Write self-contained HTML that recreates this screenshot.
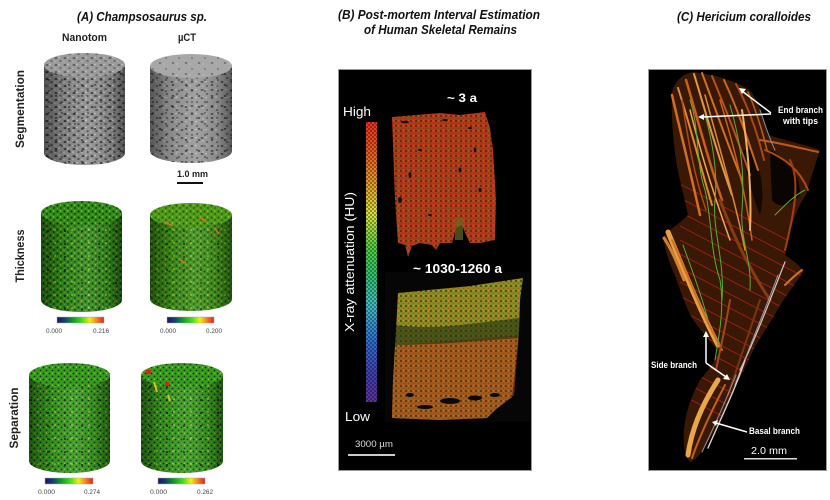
<!DOCTYPE html>
<html><head><meta charset="utf-8"><style>
html,body{margin:0;padding:0;background:#fff;}
svg{display:block;}
text{font-family:"Liberation Sans",sans-serif;}
</style></head><body>
<svg width="830" height="500" viewBox="0 0 830 500" xmlns="http://www.w3.org/2000/svg">
<defs>
<pattern id="pSeg" width="9" height="7" patternUnits="userSpaceOnUse">
<rect width="9" height="7" fill="#8e8e8e"/>
<ellipse cx="2" cy="2" rx="1.5" ry="0.9" fill="#2a2a2a"/>
<ellipse cx="6.5" cy="5" rx="1.3" ry="0.8" fill="#333"/>
<circle cx="5" cy="1.5" r="0.7" fill="#d8d8d8"/>
<circle cx="1" cy="5.5" r="0.6" fill="#c8c8c8"/>
</pattern>
<pattern id="pSeg2" width="13" height="11" patternUnits="userSpaceOnUse">
<ellipse cx="4" cy="8" rx="1.3" ry="0.7" fill="#2a2a2a"/>
<ellipse cx="10" cy="3" rx="1" ry="0.6" fill="#303030"/>
<circle cx="8" cy="9" r="0.6" fill="#e0e0e0"/>
</pattern>
<pattern id="pSegB" width="10" height="8" patternUnits="userSpaceOnUse">
<rect width="10" height="8" fill="#999"/>
<ellipse cx="2" cy="2" rx="1.5" ry="0.7" fill="#333"/>
<ellipse cx="7" cy="6" rx="1.2" ry="0.6" fill="#3a3a3a"/>
<circle cx="6" cy="1.5" r="0.6" fill="#e0e0e0"/>
</pattern>
<pattern id="pGreen" width="7" height="6" patternUnits="userSpaceOnUse">
<rect width="7" height="6" fill="#338a1a"/>
<circle cx="1.5" cy="1.5" r="1" fill="#0b2a12"/>
<circle cx="5" cy="4" r="0.9" fill="#14301a"/>
<circle cx="4.5" cy="1" r="0.9" fill="#66cc30"/>
<circle cx="1.5" cy="4.5" r="0.8" fill="#50b024"/>
</pattern>
<pattern id="pGreen2" width="17" height="13" patternUnits="userSpaceOnUse">
<circle cx="4" cy="9" r="0.9" fill="#c8d020"/>
<circle cx="12" cy="3" r="0.8" fill="#d07020"/>
<circle cx="14" cy="10" r="1" fill="#0a2010"/>
</pattern>
<pattern id="pSep" width="6" height="6" patternUnits="userSpaceOnUse">
<rect width="6" height="6" fill="#389a1e"/>
<circle cx="1.5" cy="1.5" r="0.9" fill="#0f3010"/>
<circle cx="4.5" cy="4.5" r="0.9" fill="#123412"/>
<circle cx="4.5" cy="1.2" r="0.8" fill="#70d034"/>
</pattern>
<pattern id="pBoneR" width="5" height="5" patternUnits="userSpaceOnUse">
<rect width="5" height="5" fill="#b8381a"/>
<circle cx="1" cy="1" r="0.9" fill="#1e2a0c"/>
<circle cx="3.5" cy="3" r="0.8" fill="#4a5a18"/>
<circle cx="3.6" cy="0.8" r="0.7" fill="#e04a1c"/>
<circle cx="1" cy="3.8" r="0.5" fill="#6a2a0c"/>
</pattern>
<pattern id="pBoneY" width="5" height="5" patternUnits="userSpaceOnUse">
<rect width="5" height="5" fill="#8a8a22"/>
<circle cx="1" cy="1" r="0.9" fill="#22320e"/>
<circle cx="3.5" cy="3.2" r="0.7" fill="#c04818"/>
<circle cx="3.5" cy="0.8" r="0.6" fill="#b8b030"/>
</pattern>
<pattern id="pChk" width="4" height="4" patternUnits="userSpaceOnUse">
<rect width="2" height="2" fill="#000" fill-opacity="0.35"/>
<rect x="2" y="2" width="2" height="2" fill="#000" fill-opacity="0.35"/>
</pattern>
<linearGradient id="gShade" x1="0" y1="0" x2="1" y2="0">
<stop offset="0" stop-color="#000" stop-opacity="0.45"/>
<stop offset="0.25" stop-color="#000" stop-opacity="0.1"/>
<stop offset="0.55" stop-color="#fff" stop-opacity="0.08"/>
<stop offset="0.85" stop-color="#000" stop-opacity="0.15"/>
<stop offset="1" stop-color="#000" stop-opacity="0.45"/>
</linearGradient>
<linearGradient id="gCb" x1="0" y1="0" x2="1" y2="0">
<stop offset="0" stop-color="#1a1468"/>
<stop offset="0.15" stop-color="#143c6a"/>
<stop offset="0.35" stop-color="#10a028"/>
<stop offset="0.55" stop-color="#50e020"/>
<stop offset="0.7" stop-color="#f0f010"/>
<stop offset="0.85" stop-color="#f08020"/>
<stop offset="1" stop-color="#e81c1c"/>
</linearGradient>
<linearGradient id="gCbB" x1="0" y1="0" x2="0" y2="1">
<stop offset="0" stop-color="#e83020"/>
<stop offset="0.12" stop-color="#e86020"/>
<stop offset="0.25" stop-color="#e0b030"/>
<stop offset="0.33" stop-color="#d8e040"/>
<stop offset="0.45" stop-color="#50d040"/>
<stop offset="0.55" stop-color="#30c070"/>
<stop offset="0.65" stop-color="#40c0c0"/>
<stop offset="0.78" stop-color="#3070d0"/>
<stop offset="0.9" stop-color="#4040b0"/>
<stop offset="1" stop-color="#6030a0"/>
</linearGradient>
<clipPath id="cBody">
<path d="M672,92 C675,80 685,72 695,72 L715,76 C730,80 745,85 752,93 C760,105 765,120 768,135 C785,140 805,145 820,150 C815,165 810,180 806,195 C795,210 790,230 785,255 C795,262 803,268 803,272 C795,285 782,300 773,318 C762,335 752,350 748,362 C740,378 732,392 727,405 C720,420 712,435 706,445 C700,455 695,460 690,462 C684,455 683,445 684,430 C686,410 692,395 700,380 C710,368 716,360 718,352 C710,340 700,330 692,318 C685,305 680,290 676,278 C670,265 665,250 663,238 C668,230 678,225 688,215 C684,195 678,175 676,160 C673,140 671,115 672,92 Z"/>
</clipPath>
</defs>

<rect width="830" height="500" fill="#fff"/>

<!-- Panel A -->
<text x="77" y="21" font-size="13" font-weight="bold" font-style="italic" textLength="130" lengthAdjust="spacingAndGlyphs" fill="#111">(A) Champsosaurus sp.</text>
<text x="62" y="41" font-size="11" font-weight="bold" textLength="45" lengthAdjust="spacingAndGlyphs" fill="#222">Nanotom</text>
<text x="178" y="41" font-size="11" font-weight="bold" textLength="18" lengthAdjust="spacingAndGlyphs" fill="#222">µCT</text>
<text transform="translate(24,109) rotate(-90)" text-anchor="middle" font-size="11.5" font-weight="bold" textLength="78" lengthAdjust="spacingAndGlyphs" fill="#222">Segmentation</text>
<text transform="translate(24,256) rotate(-90)" text-anchor="middle" font-size="11.5" font-weight="bold" textLength="53" lengthAdjust="spacingAndGlyphs" fill="#222">Thickness</text>
<text transform="translate(18,418) rotate(-90)" text-anchor="middle" font-size="11.5" font-weight="bold" textLength="61" lengthAdjust="spacingAndGlyphs" fill="#222">Separation</text>

<!-- Seg left -->
<g>
<path d="M44,65 L44,153 A40.5,12 0 0 0 125,153 L125,65 Z" fill="url(#pSeg)"/>
<path d="M44,65 L44,153 A40.5,12 0 0 0 125,153 L125,65 Z" fill="url(#pSeg2)"/>
<path d="M44,65 L44,153 A40.5,12 0 0 0 125,153 L125,65 Z" fill="url(#gShade)"/>
<ellipse cx="84.5" cy="65" rx="40.5" ry="12" fill="url(#pSeg)"/>
<ellipse cx="84.5" cy="65" rx="40.5" ry="12" fill="#bbb" fill-opacity="0.3"/>
</g>
<!-- Seg right -->
<g>
<path d="M150,66 L150,151 A41,12 0 0 0 232,151 L232,66 Z" fill="url(#pSegB)"/>
<path d="M150,66 L150,151 A41,12 0 0 0 232,151 L232,66 Z" fill="url(#pSeg2)"/>
<path d="M150,66 L150,151 A41,12 0 0 0 232,151 L232,66 Z" fill="url(#gShade)"/>
<ellipse cx="191" cy="66" rx="41" ry="12" fill="#a8a8a8"/>
<ellipse cx="191" cy="66" rx="41" ry="12" fill="url(#pSeg2)" opacity="0.6"/>
</g>
<text x="177" y="177" font-size="9" font-weight="bold" textLength="31" lengthAdjust="spacingAndGlyphs" fill="#222">1.0 mm</text>
<rect x="177" y="182" width="26" height="2" fill="#111"/>

<!-- Thickness left -->
<g>
<path d="M41,213 L41,300 A40.5,12 0 0 0 122,300 L122,213 Z" fill="url(#pGreen)"/>
<path d="M41,213 L41,300 A40.5,12 0 0 0 122,300 L122,213 Z" fill="url(#pGreen2)"/>
<path d="M41,213 L41,300 A40.5,12 0 0 0 122,300 L122,213 Z" fill="url(#gShade)"/>
<ellipse cx="81.5" cy="213" rx="40.5" ry="12" fill="url(#pGreen)"/>
</g>
<!-- Thickness right -->
<g>
<path d="M150,215 L150,299 A41,12 0 0 0 232,299 L232,215 Z" fill="url(#pGreen)"/>
<path d="M150,215 L150,299 A41,12 0 0 0 232,299 L232,215 Z" fill="url(#pGreen2)"/>
<path d="M150,215 L150,299 A41,12 0 0 0 232,299 L232,215 Z" fill="#90c020" fill-opacity="0.12"/>
<path d="M150,215 L150,299 A41,12 0 0 0 232,299 L232,215 Z" fill="url(#gShade)"/>
<ellipse cx="191" cy="215" rx="41" ry="12" fill="url(#pGreen)"/>
<ellipse cx="191" cy="215" rx="41" ry="12" fill="#c0d020" fill-opacity="0.2"/>
<path d="M165,222 l8,4 M200,218 l6,3 M215,228 l4,6 M180,260 l6,3" stroke="#e07020" stroke-width="1.5"/>
</g>
<rect x="57" y="317" width="47" height="6" fill="url(#gCb)" stroke="#aaa" stroke-width="0.5"/>
<rect x="167" y="317" width="47" height="6" fill="url(#gCb)" stroke="#aaa" stroke-width="0.5"/>
<text x="46" y="333" font-size="6" textLength="16" lengthAdjust="spacingAndGlyphs" fill="#444">0.000</text>
<text x="93" y="333" font-size="6" textLength="16" lengthAdjust="spacingAndGlyphs" fill="#444">0.216</text>
<text x="160" y="333" font-size="6" textLength="16" lengthAdjust="spacingAndGlyphs" fill="#444">0.000</text>
<text x="206" y="333" font-size="6" textLength="16" lengthAdjust="spacingAndGlyphs" fill="#444">0.200</text>

<!-- Separation left -->
<g>
<path d="M29,375 L29,461 A40.5,12 0 0 0 110,461 L110,375 Z" fill="url(#pSep)"/>
<path d="M29,375 L29,461 A40.5,12 0 0 0 110,461 L110,375 Z" fill="url(#pGreen2)"/>
<path d="M29,375 L29,461 A40.5,12 0 0 0 110,461 L110,375 Z" fill="url(#gShade)"/>
<ellipse cx="69.5" cy="375" rx="40.5" ry="12" fill="url(#pSep)"/>
</g>
<!-- Separation right -->
<g>
<path d="M141,375 L141,461 A41,12 0 0 0 223,461 L223,375 Z" fill="url(#pSep)"/>
<path d="M141,375 L141,461 A41,12 0 0 0 223,461 L223,375 Z" fill="url(#pGreen2)"/>
<path d="M141,375 L141,461 A41,12 0 0 0 223,461 L223,375 Z" fill="url(#gShade)"/>
<ellipse cx="182" cy="375" rx="41" ry="12" fill="url(#pSep)"/>
<rect x="146" y="370" width="5" height="4" fill="#e02010"/>
<rect x="165" y="382" width="4" height="4" fill="#e02010"/>
<path d="M154,382 l3,10 M168,395 l2,6" stroke="#d8c020" stroke-width="2"/>
</g>
<rect x="45" y="478" width="48" height="6" fill="url(#gCb)" stroke="#aaa" stroke-width="0.5"/>
<rect x="158" y="478" width="47" height="6" fill="url(#gCb)" stroke="#aaa" stroke-width="0.5"/>
<text x="38" y="494" font-size="6" textLength="17" lengthAdjust="spacingAndGlyphs" fill="#444">0.000</text>
<text x="84" y="494" font-size="6" textLength="16" lengthAdjust="spacingAndGlyphs" fill="#444">0.274</text>
<text x="150" y="494" font-size="6" textLength="17" lengthAdjust="spacingAndGlyphs" fill="#444">0.000</text>
<text x="197" y="494" font-size="6" textLength="16" lengthAdjust="spacingAndGlyphs" fill="#444">0.262</text>

<!-- Panel B -->
<text x="338" y="19" font-size="12.5" font-weight="bold" font-style="italic" textLength="202" lengthAdjust="spacingAndGlyphs" fill="#111">(B) Post-mortem Interval Estimation</text>
<text x="364" y="34" font-size="12.5" font-weight="bold" font-style="italic" textLength="153" lengthAdjust="spacingAndGlyphs" fill="#111">of Human Skeletal Remains</text>
<rect x="338.5" y="69.5" width="193" height="401" fill="#000" stroke="#9a9a9a" stroke-width="1"/>
<rect x="385" y="272" width="145" height="150" fill="#060606"/>
<!-- colorbar -->
<rect x="366" y="122" width="11" height="280" fill="url(#gCbB)"/>
<rect x="366" y="122" width="11" height="280" fill="url(#pChk)"/>
<text x="343" y="116" font-size="13" textLength="28" lengthAdjust="spacingAndGlyphs" fill="#fff">High</text>
<text x="345" y="421" font-size="13" textLength="25" lengthAdjust="spacingAndGlyphs" fill="#fff">Low</text>
<text transform="translate(354,262) rotate(-90)" text-anchor="middle" font-size="12.5" textLength="140" lengthAdjust="spacingAndGlyphs" fill="#fff">X-ray attenuation (HU)</text>
<text x="447" y="102" font-size="12" font-weight="bold" textLength="30" lengthAdjust="spacingAndGlyphs" fill="#fff">~ 3 a</text>
<text x="413" y="273" font-size="12.5" font-weight="bold" textLength="89" lengthAdjust="spacingAndGlyphs" fill="#fff">~ 1030-1260 a</text>
<!-- upper sample -->
<path d="M392,117 L440,113 L460,115 L485,112 L490,128 L493,150 L496,200 L495,240 L480,243 L470,243 L466,235 L462,225 L456,228 L452,243 L440,243 L436,250 L432,245 L420,243 L412,246 L408,257 L405,245 L398,243 L395,200 Z" fill="url(#pBoneR)"/>
<g fill="#111">
<ellipse cx="405" cy="122" rx="4" ry="1.2"/><ellipse cx="445" cy="120" rx="3" ry="1"/><ellipse cx="470" cy="128" rx="2" ry="1"/>
<ellipse cx="420" cy="150" rx="2" ry="1"/><ellipse cx="460" cy="170" rx="1.5" ry="2.5"/><ellipse cx="400" cy="200" rx="2" ry="3"/>
<ellipse cx="480" cy="190" rx="1.5" ry="2"/><ellipse cx="430" cy="215" rx="2" ry="1"/>
<ellipse cx="410" cy="175" rx="1.5" ry="3"/><ellipse cx="475" cy="150" rx="1.2" ry="2.5"/>
</g>
<rect x="455" y="218" width="8" height="22" fill="#6a6a20" opacity="0.7"/>
<!-- lower sample -->
<path d="M398,293 L470,286 L523,278 L520,300 L519,330 L515,370 L512,397 L495,410 L487,418 L440,420 L392,418 L393,380 L396,330 Z" fill="url(#pBoneY)"/>
<path d="M396,345 L519,335 L514,395 L495,410 L487,418 L440,420 L392,418 L393,380 Z" fill="url(#pBoneR)" opacity="0.6"/>
<path d="M396,325 C430,330 460,325 519,318 L519,338 C470,342 430,345 395,345 Z" fill="#1e3010" opacity="0.6"/>
<g fill="#0a0a0a">
<ellipse cx="450" cy="401" rx="10" ry="3"/><ellipse cx="475" cy="398" rx="7" ry="2.5"/><ellipse cx="425" cy="407" rx="8" ry="2"/><ellipse cx="495" cy="395" rx="5" ry="2"/><ellipse cx="410" cy="395" rx="4" ry="2"/>
</g>
<text x="355" y="447" font-size="9" textLength="38" lengthAdjust="spacingAndGlyphs" fill="#ddd">3000 µm</text>
<rect x="348" y="454" width="47" height="2" fill="#ccc"/>

<!-- Panel C -->
<text x="677" y="21" font-size="12.5" font-weight="bold" font-style="italic" textLength="134" lengthAdjust="spacingAndGlyphs" fill="#111">(C) Hericium coralloides</text>
<rect x="648.5" y="69.5" width="178" height="401" fill="#000" stroke="#9a9a9a" stroke-width="1"/>
<g>
<path d="M672,92 C675,80 685,72 695,72 L715,76 C730,80 745,85 752,93 C760,105 765,120 768,135 C785,140 805,145 820,150 C815,165 810,180 806,195 C795,210 790,230 785,255 C795,262 803,268 803,272 C795,285 782,300 773,318 C762,335 752,350 748,362 C740,378 732,392 727,405 C720,420 712,435 706,445 C700,455 695,460 690,462 C684,455 683,445 684,430 C686,410 692,395 700,380 C710,368 716,360 718,352 C710,340 700,330 692,318 C685,305 680,290 676,278 C670,265 665,250 663,238 C668,230 678,225 688,215 C684,195 678,175 676,160 C673,140 671,115 672,92 Z" fill="#3a1806"/>
<g clip-path="url(#cBody)" fill="none">
<path d="M770,150 C790,160 800,175 800,195 C790,205 780,210 772,200 Z" fill="#0a0402" stroke="none"/>
<path d="M740,150 C748,175 752,195 760,215 C765,195 762,170 752,150 Z" fill="#120804" stroke="none"/>
<g stroke="#c02018" stroke-width="0.9" opacity="0.8">
<path d="M680,184 l130,68 M680,198 l130,68 M680,212 l130,68 M680,226 l130,68 M680,240 l130,68 M680,254 l130,68 M680,268 l130,68 M680,282 l130,68 M680,296 l130,68 M680,310 l130,68 M680,324 l130,68 M680,338 l130,68 M680,352 l130,68 M680,366 l130,68 M680,380 l130,68 M680,394 l130,68"/>
</g>
</g>
<g fill="none" stroke-linecap="round">
<path d="M672,95 C680,130 690,170 700,215" stroke="#d07020" stroke-width="2.5"/>
<path d="M678,88 C690,125 700,165 712,205" stroke="#e08a30" stroke-width="2"/>
<path d="M686,80 C698,120 708,160 722,200" stroke="#c86018" stroke-width="2.5"/>
<path d="M694,74 C705,110 716,150 732,195" stroke="#e09a40" stroke-width="2"/>
<path d="M702,73 C714,105 726,140 742,180" stroke="#d07020" stroke-width="2"/>
<path d="M712,76 C724,105 738,140 750,175" stroke="#b85018" stroke-width="2"/>
<path d="M724,80 C738,110 748,140 758,170" stroke="#c86820" stroke-width="2"/>
<path d="M736,84 C750,110 758,135 764,160" stroke="#a84812" stroke-width="2"/>
<path d="M748,92 C756,110 762,130 767,150" stroke="#c06018" stroke-width="1.5"/>
<path d="M690,110 C700,150 712,190 730,240" stroke="#f0a850" stroke-width="1.5"/>
<path d="M705,95 C720,150 735,200 745,250" stroke="#e08a30" stroke-width="1.5"/>
<path d="M720,100 C735,150 745,190 752,240" stroke="#c86018" stroke-width="1.5"/>
<path d="M742,110 C748,150 752,190 750,230" stroke="#f0b060" stroke-width="2"/>
<path d="M682,100 C688,140 694,175 706,210" stroke="#b04a12" stroke-width="1.5"/>
<path d="M760,140 C780,143 800,148 818,152" stroke="#c05818" stroke-width="2"/>
<path d="M765,150 C785,158 800,170 808,190" stroke="#b04a10" stroke-width="2"/>
<path d="M790,160 C800,180 795,210 785,250" stroke="#a04010" stroke-width="2"/>
<path d="M720,200 C735,240 750,270 770,300" stroke="#8a3a10" stroke-width="3"/>
<path d="M668,232 C680,260 695,300 718,345" stroke="#e8a040" stroke-width="5"/>
<path d="M672,240 C686,270 700,310 722,350" stroke="#c87020" stroke-width="2"/>
<path d="M664,238 C672,250 678,265 684,280" stroke="#d08030" stroke-width="3"/>
<path d="M730,300 C725,330 720,350 716,370" stroke="#a04818" stroke-width="2"/>
<path d="M760,300 C750,330 740,360 728,395" stroke="#7a3410" stroke-width="2"/>
<path d="M718,380 C705,400 692,425 688,455" stroke="#e8a848" stroke-width="5"/>
<path d="M725,385 C712,410 700,435 692,458" stroke="#c06018" stroke-width="2"/>
<path d="M802,270 C795,275 790,280 785,285" stroke="#d07020" stroke-width="2"/>
<path d="M785,262 C770,300 755,340 740,370" stroke="#d0c8c8" stroke-width="1.2"/>
<path d="M778,275 C765,310 748,350 735,385" stroke="#a09898" stroke-width="1"/>
<path d="M745,360 C735,390 720,420 708,448" stroke="#d8d0d0" stroke-width="1.4"/>
<path d="M736,375 C726,400 715,425 702,452" stroke="#9a9090" stroke-width="1"/>
<path d="M760,110 C765,125 770,140 775,150" stroke="#8a8a98" stroke-width="1"/>
<path d="M690,100 C700,130 695,160 705,190 C712,220 710,250 720,280 C725,310 718,340 715,360" stroke="#58b030" stroke-width="1"/>
<path d="M705,115 C712,140 718,170 715,200 C712,230 725,260 722,300" stroke="#58b030" stroke-width="1"/>
<path d="M730,105 C740,140 745,170 742,210 C740,240 752,260 750,290" stroke="#58b030" stroke-width="1"/>
<path d="M775,215 C785,205 795,195 805,190" stroke="#58b030" stroke-width="1"/>
<path d="M683,245 C690,265 700,290 708,320" stroke="#58b030" stroke-width="1"/>
</g>
</g>
<!-- annotations -->
<g stroke="#fff" stroke-width="1.5" fill="none">
<path d="M771,113 L742,91"/>
<path d="M771,114 L702,117"/>
<path d="M706,363 L706,336"/>
<path d="M706,363 L726,377"/>
<path d="M747,432 L716,423"/>
</g>
<g fill="#fff">
<polygon points="739,88 746,89 742,94"/>
<polygon points="698,117 704,114 704,120"/>
<polygon points="706,331 703,337 709,337"/>
<polygon points="730,380 723,379 727,374"/>
<polygon points="712,422 718,420 716,426"/>
</g>
<text x="778" y="113" font-size="9" font-weight="bold" textLength="45" lengthAdjust="spacingAndGlyphs" fill="#fff">End branch</text>
<text x="783" y="124" font-size="9" font-weight="bold" textLength="35" lengthAdjust="spacingAndGlyphs" fill="#fff">with tips</text>
<text x="651" y="368" font-size="9" font-weight="bold" textLength="46" lengthAdjust="spacingAndGlyphs" fill="#fff">Side branch</text>
<text x="749" y="434" font-size="9" font-weight="bold" textLength="51" lengthAdjust="spacingAndGlyphs" fill="#fff">Basal branch</text>
<text x="751" y="454" font-size="10" textLength="36" lengthAdjust="spacingAndGlyphs" fill="#fff">2.0 mm</text>
<rect x="744" y="458" width="53" height="1.5" fill="#ddd"/>
</svg>
</body></html>
